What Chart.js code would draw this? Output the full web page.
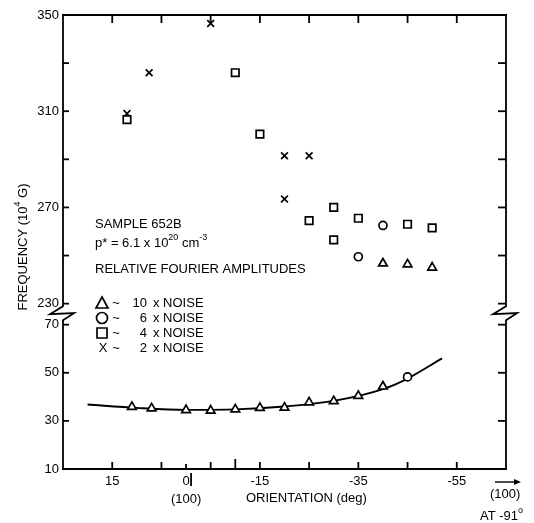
<!DOCTYPE html>
<html>
<head>
<meta charset="utf-8">
<script src="https://cdn.jsdelivr.net/npm/chart.js@4/dist/chart.umd.min.js"></script>
<style>
  html, body { margin: 0; padding: 0; background: #fff; }
  canvas { display: block; }
</style>
</head>
<body>
<canvas id="freqChart" width="534" height="523"></canvas>
<script>
// Fourier frequencies vs orientation, sample 652B (broken frequency axis)

// upper band (230-350) sits above a break; 230 is drawn 8.75 units above 70
const BREAK_SHIFT = 151.25;

// 10 x noise (triangles)
const triLowDeg = [11, 7, 0, -5, -10, -15, -20, -25, -30, -35, -40];
const triLowVal = [35.8, 35.2, 34.5, 34.3, 34.8, 35.4, 35.5, 37.7, 38.2, 40.4, 44.3];
const triHighDeg = [-40, -45, -50];
const triHighVal = [246.7, 246.3, 245];

// 6 x noise (circles)
const circLowDeg = [-45];
const circLowVal = [48.3];
const circHighDeg = [-35, -40];
const circHighVal = [249.5, 262.5];

// 4 x noise (squares)
const sqDeg = [12, -10, -15, -25, -30, -30, -35, -45, -50];
const sqVal = [306.5, 326, 300.5, 264.5, 270, 256.5, 265.5, 263, 261.5];

// 2 x noise (crosses)
const crossDeg = [12, 7.5, -5, -20, -20, -25];
const crossVal = [309, 326, 346.5, 291.5, 273.5, 291.5];

// smooth curve through the low branch
const curveDeg = [20, 10, 0, -10, -20, -30, -40, -45, -52];
const curveVal = [36.8, 35.4, 34.6, 34.8, 36.0, 38.3, 43.2, 47.6, 56];

// axis ticks
const xLabels = [15, 0, -15, -35, -55];
const xTopTicks = [15, 5, -5, -15, -25, -35, -45, -55];
const xBottomTicks = [15, 5, 0, -5, -10, -15, -25, -35, -45, -55];
const yLowLabels = [10, 30, 50, 70];
const yHighLabels = [230, 270, 310, 350];
const yLowTicks = [30, 50, 70];
const yHighTicks = [230, 250, 270, 290, 310, 330];

const FONT = "'Liberation Sans', Arial, sans-serif";
const FS = 13;

function pts(deg, val, shift) {
    return deg.map((d, i) => ({ x: d, y: val[i] - shift }));
}

function markerSet(data, style, radius) {
    return {
        data: data,
        pointStyle: style,
        pointRadius: radius,
        pointBorderWidth: 1.7,
        pointBorderColor: '#000',
        pointBackgroundColor: '#fff',
        order: 1
    };
}

// draw text made of normal and superscript pieces, returns the width
function richText(ctx, parts, x, y, size, measureOnly) {
    let w = 0;
    parts.forEach(p => {
        ctx.font = (p.sup ? Math.round(size * 0.72) : size) + 'px ' + FONT;
        if (!measureOnly) ctx.fillText(p.t, x + w, p.sup ? y - size * 0.42 : y);
        w += ctx.measureText(p.t).width;
    });
    return w;
}

const framePlugin = {
    id: 'frame',
    afterDraw(chart) {
        const { ctx, chartArea: a, scales: { x, y } } = chart;
        const line = (x1, y1, x2, y2) => {
            ctx.beginPath(); ctx.moveTo(x1, y1); ctx.lineTo(x2, y2); ctx.stroke();
        };
        ctx.save();
        ctx.strokeStyle = '#000';
        ctx.lineWidth = 1.8;

        // frame with break zig-zags on both sides
        const mid = (y.getPixelForValue(70) + y.getPixelForValue(230 - BREAK_SHIFT)) / 2;
        line(a.left - 1, a.top, a.right + 1, a.top);
        line(a.left - 1, a.bottom, a.right + 1, a.bottom);
        [a.left, a.right].forEach(xx => {
            ctx.beginPath();
            ctx.moveTo(xx, a.top);
            ctx.lineTo(xx, mid - 8);
            ctx.lineTo(xx - 13, mid);
            ctx.lineTo(xx + 11, mid - 1);
            ctx.lineTo(xx, mid + 6);
            ctx.lineTo(xx, a.bottom);
            ctx.stroke();
        });

        // inward tick marks
        xTopTicks.forEach(d => {
            const px = x.getPixelForValue(d);
            line(px, a.top, px, a.top + 8);
        });
        xBottomTicks.forEach(d => {
            const px = x.getPixelForValue(d);
            const len = d === 0 ? 5 : (d === -10 ? 10 : 7);
            line(px, a.bottom, px, a.bottom - len);
        });
        const sideTicks = yLowTicks.concat(yHighTicks.map(v => v - BREAK_SHIFT));
        sideTicks.forEach(v => {
            const py = y.getPixelForValue(v);
            line(a.left, py, a.left + 6, py);
            line(a.right, py, a.right - 8, py);
        });

        // bar after the 0 label
        const x0 = x.getPixelForValue(0);
        line(x0 + 5, a.bottom + 4, x0 + 5, a.bottom + 17);

        ctx.fillStyle = '#000';
        ctx.textBaseline = 'middle';
        ctx.textAlign = 'left';

        // axis titles
        ctx.font = FS + 'px ' + FONT;
        ctx.textAlign = 'center';
        ctx.fillText('(100)', x0, a.bottom + 30);
        ctx.textAlign = 'left';
        ctx.fillText('ORIENTATION (deg)', 246, a.bottom + 29);

        ctx.fillText('(100)', 490, a.bottom + 25);
        richText(ctx, [{ t: 'AT -91' }, { t: 'o', sup: true }], 480, a.bottom + 47, FS);
        ctx.lineWidth = 1.4;
        line(495, a.bottom + 13, 517, a.bottom + 13);
        ctx.beginPath();
        ctx.moveTo(521, a.bottom + 13);
        ctx.lineTo(514, a.bottom + 10);
        ctx.lineTo(514, a.bottom + 16);
        ctx.closePath();
        ctx.fill();

        const yTitle = [{ t: 'FREQUENCY (10' }, { t: '4', sup: true }, { t: ' G)' }];
        ctx.save();
        ctx.translate(23, 247);
        ctx.rotate(-Math.PI / 2);
        const tw = richText(ctx, yTitle, 0, 0, FS, true);
        richText(ctx, yTitle, -tw / 2, 0, FS);
        ctx.restore();

        // sample notes
        ctx.font = FS + 'px ' + FONT;
        ctx.fillText('SAMPLE 652B', 95, 224);
        richText(ctx, [{ t: 'p* = 6.1 x 10' }, { t: '20', sup: true }, { t: ' cm' }, { t: '-3', sup: true }], 95, 243, FS);
        ctx.font = FS + 'px ' + FONT;
        ctx.fillText('RELATIVE FOURIER AMPLITUDES', 95, 269);

        // key
        const rows = [
            { sym: 'triangle', n: '10', y: 303 },
            { sym: 'circle', n: '6', y: 318 },
            { sym: 'rect', n: '4', y: 333 },
            { sym: 'X', n: '2', y: 348 }
        ];
        rows.forEach(r => {
            ctx.lineWidth = 1.7;
            ctx.fillStyle = '#fff';
            ctx.beginPath();
            if (r.sym === 'triangle') {
                ctx.moveTo(102, r.y - 6); ctx.lineTo(108, r.y + 5); ctx.lineTo(96, r.y + 5); ctx.closePath();
            } else if (r.sym === 'circle') {
                ctx.arc(102, r.y, 5.5, 0, Math.PI * 2);
            } else if (r.sym === 'rect') {
                ctx.rect(97, r.y - 5, 10, 10);
            }
            if (r.sym !== 'X') { ctx.fill(); ctx.stroke(); }
            ctx.fillStyle = '#000';
            ctx.font = FS + 'px ' + FONT;
            ctx.textAlign = 'center';
            if (r.sym === 'X') ctx.fillText('X', 103, r.y);
            ctx.fillText('~', 116, r.y);
            ctx.textAlign = 'right';
            ctx.fillText(r.n, 147, r.y);
            ctx.textAlign = 'left';
            ctx.fillText('x NOISE', 153, r.y);
        });
        ctx.restore();
    }
};

const ctx = document.getElementById('freqChart');
new Chart(ctx, {
    type: 'scatter',
    data: {
        datasets: [
            {
                type: 'line',
                data: pts(curveDeg, curveVal, 0),
                borderColor: '#000',
                borderWidth: 1.9,
                pointRadius: 0,
                cubicInterpolationMode: 'monotone',
                fill: false,
                order: 5
            },
            markerSet(pts(triLowDeg, triLowVal, 0).concat(pts(triHighDeg, triHighVal, BREAK_SHIFT)), 'triangle', 5),
            markerSet(pts(circLowDeg, circLowVal, 0).concat(pts(circHighDeg, circHighVal, BREAK_SHIFT)), 'circle', 4),
            markerSet(pts(sqDeg, sqVal, BREAK_SHIFT), 'rect', 5.3),
            markerSet(pts(crossDeg, crossVal, BREAK_SHIFT), 'crossRot', 4.8)
        ]
    },
    options: {
        responsive: false,
        animation: false,
        layout: { padding: { top: 15, right: 28, left: 0, bottom: 0 } },
        plugins: { legend: { display: false }, tooltip: { enabled: false } },
        scales: {
            x: {
                type: 'linear',
                reverse: true,
                min: -65,
                max: 25,
                grid: { display: false, drawTicks: false },
                border: { display: false },
                afterBuildTicks: s => { s.ticks = xLabels.map(v => ({ value: v })); },
                afterFit: s => { s.height = 54; },
                ticks: {
                    autoSkip: false,
                    maxRotation: 0,
                    color: '#000',
                    padding: 5,
                    font: { family: FONT, size: FS }
                }
            },
            y: {
                type: 'linear',
                min: 10,
                max: 350 - BREAK_SHIFT,
                grid: { display: false, drawTicks: false },
                border: { display: false },
                afterBuildTicks: s => {
                    s.ticks = yLowLabels.concat(yHighLabels.map(v => v - BREAK_SHIFT)).map(v => ({ value: v }));
                },
                afterFit: s => { s.width = 63; },
                ticks: {
                    autoSkip: false,
                    color: '#000',
                    padding: 4,
                    font: { family: FONT, size: FS },
                    callback: v => String(Math.round(v > 70.5 ? v + BREAK_SHIFT : v))
                }
            }
        }
    },
    plugins: [framePlugin]
});
</script>
</body>
</html>
